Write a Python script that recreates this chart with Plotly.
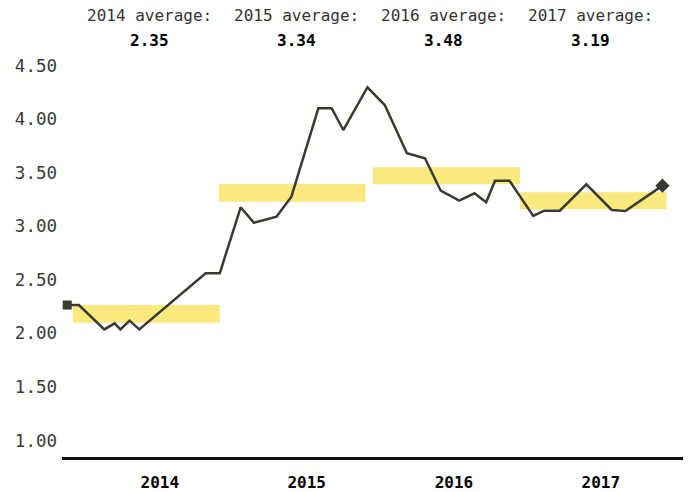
import plotly.graph_objects as go

# ---- data ----
dates = ["2013-11-14", "2013-12-13", "2014-02-14", "2014-03-12", "2014-03-26",
         "2014-04-18", "2014-05-12", "2014-10-24", "2014-11-28", "2015-01-19",
         "2015-02-21", "2015-04-18", "2015-05-25", "2015-07-31", "2015-09-02",
         "2015-10-01", "2015-11-30", "2016-01-12", "2016-03-07", "2016-04-21",
         "2016-05-30", "2016-07-15", "2016-08-22", "2016-09-20", "2016-10-12",
         "2016-11-17", "2017-01-15", "2017-02-11", "2017-03-22", "2017-05-27",
         "2017-07-29", "2017-09-01", "2017-12-02"]
values = [2.264, 2.264, 2.037, 2.093, 2.037,
          2.118, 2.037, 2.56, 2.56, 3.176,
          3.032, 3.088, 3.275, 4.10, 4.10,
          3.897, 4.296, 4.13, 3.68, 3.633,
          3.331, 3.238, 3.307, 3.223, 3.424,
          3.424, 3.095, 3.144, 3.144, 3.39,
          3.151, 3.141, 3.378]

years = ["2014", "2015", "2016", "2017"]
year_mid = ["2014-07-02", "2015-07-02", "2016-07-02", "2017-07-02"]
avg_labels = ["2.35", "3.34", "3.48", "3.19"]
band_start = ["2013-11-28", "2014-11-26", "2015-12-13", "2016-12-13"]
band_end = ["2014-11-28", "2015-11-25", "2016-12-13", "2017-12-12"]
band_low = [2.099, 3.228, 3.391, 3.157]
band_high = [2.264, 3.393, 3.549, 3.316]

y_ticks = [1.0, 1.5, 2.0, 2.5, 3.0, 3.5, 4.0, 4.5]

MONO = "DejaVu Sans Mono"
LINE_C = "#3a3a30"
BAND_C = "#f9e97e"

W, H = 689, 492
L, R, T, B = 62, 6, 49, 35
ph = H - T - B

fig = go.Figure()

fig.add_trace(go.Scatter(x=dates, y=values, mode="lines",
                         line=dict(color=LINE_C, width=2.5),
                         hoverinfo="skip", showlegend=False, cliponaxis=False))
fig.add_trace(go.Scatter(x=[dates[0]], y=[values[0]], mode="markers",
                         marker=dict(symbol="square", size=9, color=LINE_C),
                         hoverinfo="skip", showlegend=False, cliponaxis=False))
fig.add_trace(go.Scatter(x=[dates[-1]], y=[values[-1]], mode="markers",
                         marker=dict(symbol="diamond", size=11, color=LINE_C),
                         hoverinfo="skip", showlegend=False, cliponaxis=False))

for x0, x1, y0, y1 in zip(band_start, band_end, band_low, band_high):
    fig.add_shape(type="rect", xref="x", yref="y", x0=x0, x1=x1, y0=y0, y1=y1,
                  fillcolor=BAND_C, line=dict(width=0), layer="below")

# header annotations, y given in pixels from top of the figure
for yr, mid, lab in zip(years, year_mid, avg_labels):
    fig.add_annotation(x=mid, xref="x", y=(H - B - 15) / ph, yref="paper",
                       yanchor="middle", xshift=-10, text=f"{yr} average:",
                       showarrow=False,
                       font=dict(family=MONO, size=16, color="#333333"))
    fig.add_annotation(x=mid, xref="x", y=(H - B - 40) / ph, yref="paper",
                       yanchor="middle", xshift=-10, text=f"<b>{lab}</b>",
                       showarrow=False,
                       font=dict(family=MONO, size=16, color="#000000"))

fig.update_layout(
    width=W, height=H,
    margin=dict(l=L, r=R, t=T, b=B),
    paper_bgcolor="white", plot_bgcolor="white",
    hovermode=False,
    xaxis=dict(type="date", range=["2013-11-01", "2018-01-22 02:00"],
               tickvals=year_mid, ticktext=[f"<b>{y}</b>" for y in years],
               ticks="outside", ticklen=9, tickcolor="rgba(0,0,0,0)",
               tickfont=dict(family=MONO, size=16, color="#000000"),
               showgrid=False, zeroline=False, automargin=False,
               showline=True, linecolor="#111111", linewidth=2.5),
    yaxis=dict(range=[0.846, 4.653], tickvals=y_ticks,
               ticktext=[f"{v:.2f}" for v in y_ticks],
               tickfont=dict(family=MONO, size=17.5, color="#3a3a3a"),
               ticks="", showgrid=False, zeroline=False, showline=False,
               automargin=False, ticklabelstandoff=4),
)

fig.write_html("out.html",
               config={"displayModeBar": False},
               post_script="document.body.style.margin='0px';"
                           "document.body.style.overflow='hidden';")
